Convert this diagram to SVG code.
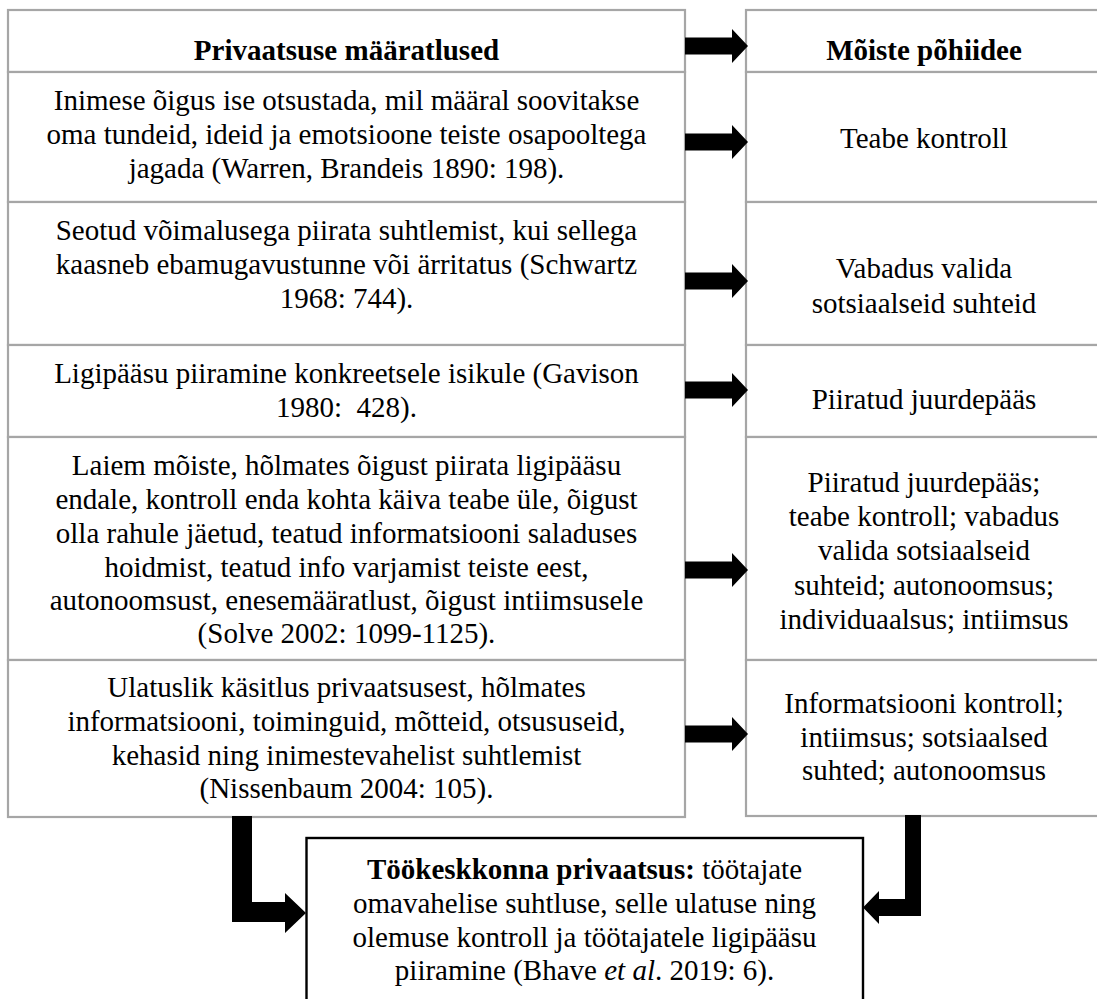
<svg xmlns="http://www.w3.org/2000/svg" xmlns:xlink="http://www.w3.org/1999/xlink" width="1097" height="999" viewBox="0 0 1097 999" font-family="'Liberation Serif', 'Times New Roman', Tinos, 'DejaVu Serif', serif">
<style>
.cell{fill:#ffffff;stroke:#a6a6a6;stroke-width:2.2}
.main{fill:#ffffff;stroke:#000000;stroke-width:2.4}
text{font-family:'Liberation Serif','Times New Roman',Tinos,'DejaVu Serif',serif;font-size:29px;fill:#000000;text-anchor:middle}
.b{font-weight:bold}
.arrow{fill:#000000}
</style>
<defs>
<path id="rarrow" d="M685,-8.5 L732,-8.5 L732,-17 L748,0 L732,17 L732,8.5 L685,8.5 Z"/>
</defs>
<rect x="0" y="0" width="1097" height="999" fill="#ffffff"/>

<g id="left-header">
<rect class="cell" x="8" y="10" width="677" height="62"/>
<text class="b" x="346.5" y="60">Privaatsuse määratlused</text>
</g>
<g id="left-r1">
<rect class="cell" x="8" y="72" width="677" height="130"/>
<text x="346.5" y="110">Inimese õigus ise otsustada, mil määral soovitakse</text>
<text x="346.5" y="144">oma tundeid, ideid ja emotsioone teiste osapooltega</text>
<text x="346.5" y="178">jagada (Warren, Brandeis 1890: 198).</text>
</g>
<g id="left-r2">
<rect class="cell" x="8" y="202" width="677" height="143"/>
<text x="346.5" y="240">Seotud võimalusega piirata suhtlemist, kui sellega</text>
<text x="346.5" y="274">kaasneb ebamugavustunne või ärritatus (Schwartz</text>
<text x="346.5" y="308">1968: 744).</text>
</g>
<g id="left-r3">
<rect class="cell" x="8" y="345" width="677" height="92"/>
<text x="346.5" y="383">Ligipääsu piiramine konkreetsele isikule (Gavison</text>
<text x="346.5" y="417" xml:space="preserve">1980:  428).</text>
</g>
<g id="left-r4">
<rect class="cell" x="8" y="437" width="677" height="223"/>
<text x="346.5" y="475">Laiem mõiste, hõlmates õigust piirata ligipääsu</text>
<text x="346.5" y="509">endale, kontroll enda kohta käiva teabe üle, õigust</text>
<text x="346.5" y="543">olla rahule jäetud, teatud informatsiooni saladuses</text>
<text x="346.5" y="577">hoidmist, teatud info varjamist teiste eest,</text>
<text x="346.5" y="610">autonoomsust, enesemääratlust, õigust intiimsusele</text>
<text x="346.5" y="643">(Solve 2002: 1099-1125).</text>
</g>
<g id="left-r5">
<rect class="cell" x="8" y="660" width="677" height="157"/>
<text x="346.5" y="697">Ulatuslik käsitlus privaatsusest, hõlmates</text>
<text x="346.5" y="731">informatsiooni, toiminguid, mõtteid, otsususeid,</text>
<text x="346.5" y="765">kehasid ning inimestevahelist suhtlemist</text>
<text x="346.5" y="798">(Nissenbaum 2004: 105).</text>
</g>

<g id="right-header">
<rect class="cell" x="746" y="10" width="362" height="62"/>
<text class="b" x="924" y="60">Mõiste põhiidee</text>
</g>
<g id="right-r1">
<rect class="cell" x="746" y="72" width="362" height="130"/>
<text x="924" y="148">Teabe kontroll</text>
</g>
<g id="right-r2">
<rect class="cell" x="746" y="202" width="362" height="143"/>
<text x="924" y="278">Vabadus valida</text>
<text x="924" y="313">sotsiaalseid suhteid</text>
</g>
<g id="right-r3">
<rect class="cell" x="746" y="345" width="362" height="92"/>
<text x="924" y="409">Piiratud juurdepääs</text>
</g>
<g id="right-r4">
<rect class="cell" x="746" y="437" width="362" height="223"/>
<text x="924" y="492">Piiratud juurdepääs;</text>
<text x="924" y="526">teabe kontroll; vabadus</text>
<text x="924" y="560">valida sotsiaalseid</text>
<text x="924" y="595">suhteid; autonoomsus;</text>
<text x="924" y="629">individuaalsus; intiimsus</text>
</g>
<g id="right-r5">
<rect class="cell" x="746" y="660" width="362" height="156"/>
<text x="924" y="713">Informatsiooni kontroll;</text>
<text x="924" y="747">intiimsus; sotsiaalsed</text>
<text x="924" y="780">suhted; autonoomsus</text>
</g>

<g id="bottom">
<rect class="main" x="306.5" y="838" width="556.5" height="180"/>
<text x="584.5" y="879"><tspan class="b">Töökeskkonna privaatsus:</tspan> töötajate</text>
<text x="584.5" y="913">omavahelise suhtluse, selle ulatuse ning</text>
<text x="584.5" y="947">olemuse kontroll ja töötajatele ligipääsu</text>
<text x="584.5" y="980">piiramine (Bhave <tspan font-style="italic">et al</tspan>. 2019: 6).</text>
</g>

<g id="connectors" class="arrow">
<use xlink:href="#rarrow" href="#rarrow" transform="translate(0,46)"/>
<use xlink:href="#rarrow" href="#rarrow" transform="translate(0,142)"/>
<use xlink:href="#rarrow" href="#rarrow" transform="translate(0,281)"/>
<use xlink:href="#rarrow" href="#rarrow" transform="translate(0,390)"/>
<use xlink:href="#rarrow" href="#rarrow" transform="translate(0,570)"/>
<use xlink:href="#rarrow" href="#rarrow" transform="translate(0,734)"/>
<path d="M232,816 L252,816 L252,902 L285,902 L285,893 L306,913 L285,933 L285,922 L232,922 Z"/>
<path d="M905,815 L921,815 L921,916 L879,916 L879,924 L863,907.5 L879,891 L879,899 L905,899 Z"/>
</g>
</svg>
